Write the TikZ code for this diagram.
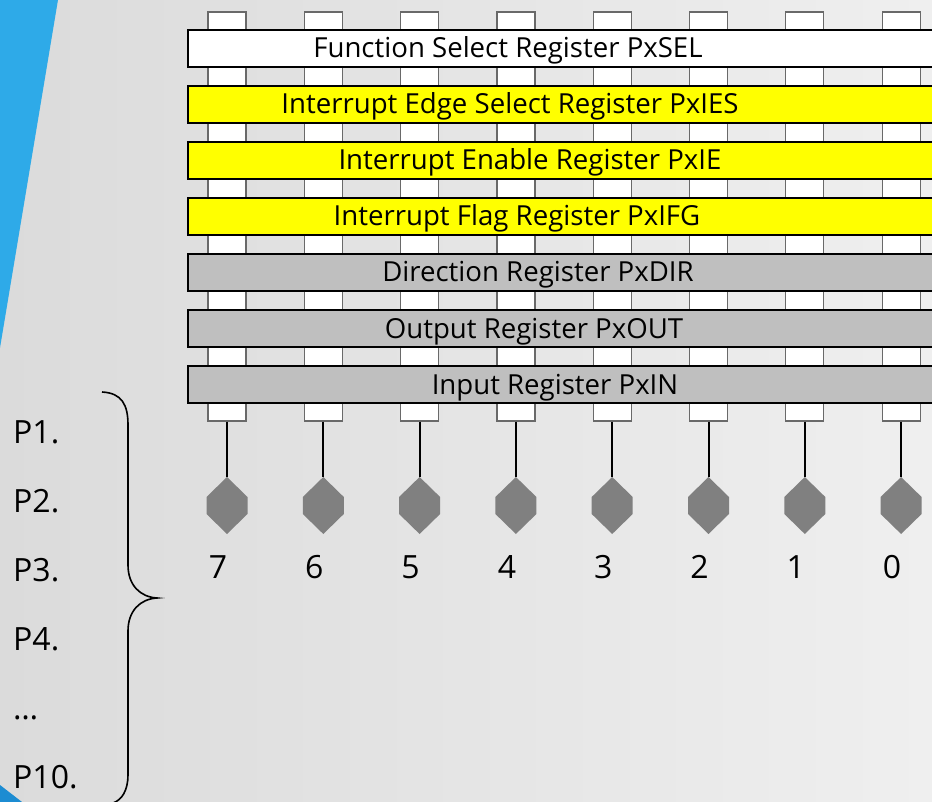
\documentclass[tikz,border=0pt]{standalone}
\usepackage{fontspec}
\setmainfont{Open Sans}
\usetikzlibrary{calc}

\definecolor{stripeblue}{RGB}{46,170,232}
\definecolor{cornerblue}{RGB}{28,140,210}
\definecolor{regyellow}{RGB}{255,255,0}
\definecolor{reggray}{RGB}{191,191,191}
\definecolor{pingray}{RGB}{128,128,128}
\definecolor{stubline}{RGB}{105,105,105}

\tikzset{
	stub/.style = {draw = stubline, line width = 1.2pt, fill = white, rectangle, inner sep = 0pt, minimum width = 38pt, minimum height = 409pt},
	reg/.style = {draw = black, line width = 2.2pt, rectangle, inner sep = 0pt, minimum width = 752pt, minimum height = 37pt},
	reglabel/.style = {anchor = base, inner sep = 0pt, font = \fontsize{27.6}{27.6}\selectfont},
	wire/.style = {draw = black, line width = 2pt},
	bignum/.style = {anchor = base, inner sep = 0pt, font = \fontsize{32}{32}\selectfont}
}

\begin{document}
\begin{tikzpicture}[x = 1pt, y = -1pt]
						\useasboundingbox (0, 0) rectangle (932, 802);
						\clip (0, 0) rectangle (932, 802);
						\shade[left color = {rgb,255:red,219;green,219;blue,219}, right color = {rgb,255:red,239;green,239;blue,239}] (0, 0) rectangle (932, 802);
						\fill[stripeblue] (0, 0) -- (58, 0) -- (0, 348) -- cycle;
						\fill[cornerblue] (0, 785) -- (22, 802) -- (0, 802) -- cycle;
						\foreach \b [count = \i from 0, evaluate = \i as \x using 227 + 96.3 * \i] in {7, 6, ..., 0} {
							\node[stub] (stub\b) at (\x, 216.5) {};
							\coordinate (pin\b) at (\x, 477);
							\draw[wire] (stub\b.south) -- (pin\b);
							\fill[pingray] (pin\b) -- ++(20.5, 20) -- ++(0, 17) -- ++(-20.5, 20) -- ++(-20.5, -20) -- ++(0, -17) -- cycle;
							\node[bignum] (num\b) at ($(pin\b) + (-9, 101)$) {\b};
						}
						\foreach \name/\col/\lx/\txt [count = \k from 0] in {sel/white/508/Function Select Register PxSEL, ies/regyellow/510/Interrupt Edge Select Register PxIES, ie/regyellow/530/Interrupt Enable Register PxIE, ifg/regyellow/517/Interrupt Flag Register PxIFG, dir/reggray/538/Direction Register PxDIR, out/reggray/534/Output Register PxOUT, in/reggray/555/Input Register PxIN} {
							\node[reg, fill = \col] (\name) at (564, {48.5 + 56 * \k}) {};
							\node[reglabel] (\name text) at (\lx, {58 + 56 * \k}) {\txt};
						}
						\foreach \p [count = \j from 0] in {P1., P2., P3., P4., \dots, P10.} {
							\node[bignum, anchor = base west] (port\j) at (13, {443 + 69 * \j}) {\p};
						}
						\draw[line width = 1.6pt] (102, 392) .. controls (122, 393) and (128, 405) .. (128, 425) -- (128, 565) .. controls (128, 585) and (140, 597) .. (157, 598) .. controls (140, 599) and (128, 611) .. (128, 631) -- (128, 775) .. controls (128, 790) and (122, 800) .. (113, 803);
					\end{tikzpicture}
\end{document}
